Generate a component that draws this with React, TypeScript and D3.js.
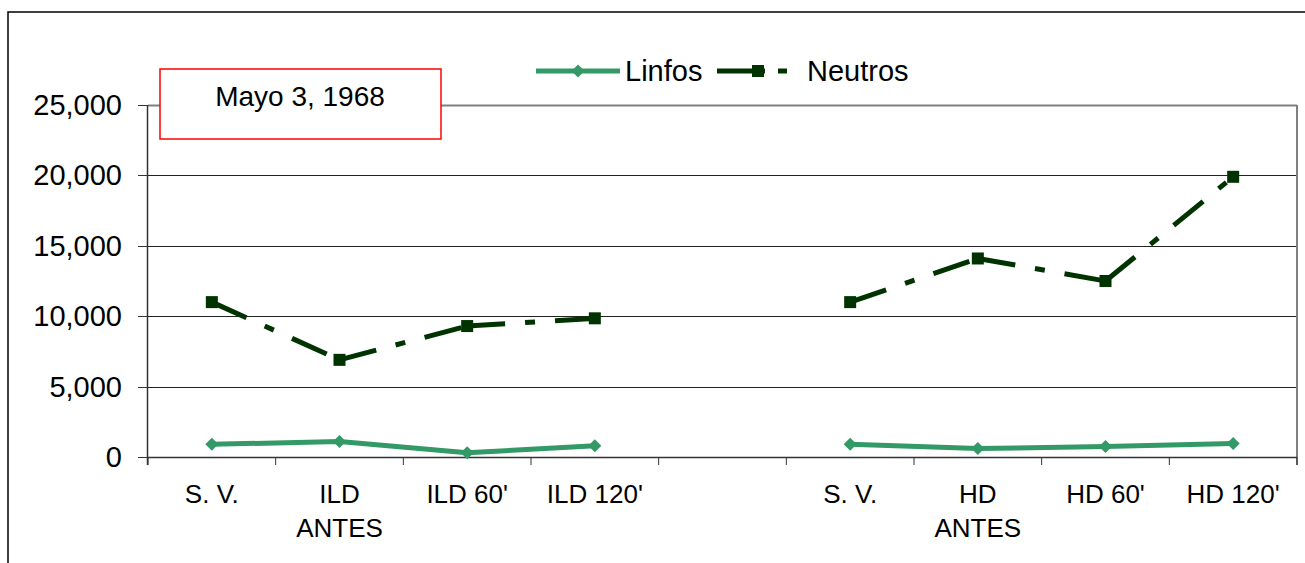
import React from "react";
import * as d3 from "d3";

const categories: string[][] = [
  ["S. V."],
  ["ILD", "ANTES"],
  ["ILD 60'"],
  ["ILD 120'"],
  [""],
  ["S. V."],
  ["HD", "ANTES"],
  ["HD 60'"],
  ["HD 120'"],
];
const linfos: (number | null)[] = [900, 1100, 300, 800, null, 900, 600, 750, 950];
const neutros: (number | null)[] = [11000, 6900, 9300, 9850, null, 11000, 14100, 12500, 19900];
const yTicks: number[] = [0, 5000, 10000, 15000, 20000, 25000];
const seriesNames = ["Linfos", "Neutros"];
const title = "Mayo 3, 1968";

const W = 1305;
const H = 563;
const FONT = "'Liberation Sans', Arial, Helvetica, sans-serif";
const LINFOS_COLOR = "#339966";
const NEUTROS_COLOR = "#003300";

export default function App() {
  const plot = { left: 148, right: 1297, top: 105, bottom: 457 };
  const x = d3
    .scaleBand<number>()
    .domain(categories.map((_, i) => i))
    .range([plot.left, plot.right])
    .padding(0);
  const y = d3.scaleLinear().domain([0, 25000]).range([plot.bottom, plot.top]);
  const fmt = d3.format(",");
  const cx = (i: number) => (x(i) as number) + x.bandwidth() / 2;

  const segs = (vals: (number | null)[]) => {
    const out: { x1: number; y1: number; x2: number; y2: number }[] = [];
    for (let i = 0; i < vals.length - 1; i++) {
      const a = vals[i];
      const b = vals[i + 1];
      if (a != null && b != null) {
        out.push({ x1: cx(i), y1: y(a), x2: cx(i + 1), y2: y(b) });
      }
    }
    return out;
  };

  const linfosLine = d3
    .line<[number, number | null]>()
    .defined((d) => d[1] != null)
    .x((d) => cx(d[0]))
    .y((d) => y(d[1] as number));

  const diamond = (px: number, py: number, r: number) =>
    `M${px},${py - r}L${px + r},${py}L${px},${py + r}L${px - r},${py}Z`;

  const edges = d3.range(categories.length + 1).map((i) =>
    i < categories.length ? (x(i) as number) : plot.right
  );

  return (
    <svg
      width={W}
      height={H}
      style={{ position: "absolute", left: 0, top: 0, background: "#fff" }}
      fontFamily={FONT}
    >
      <rect x={0} y={0} width={W} height={H} fill="#fff" />
      {/* outer chart frame */}
      <rect x={8} y={12} width={W + 10} height={H + 10} fill="none" stroke="#000" strokeWidth={1.5} />

      {/* gridlines */}
      {yTicks.map((t) =>
        t === 0 ? null : (
          <line
            key={"g" + t}
            x1={plot.left}
            x2={plot.right}
            y1={Math.round(y(t)) + 0.5}
            y2={Math.round(y(t)) + 0.5}
            stroke={t === 25000 ? "#808080" : "#222"}
            strokeWidth={t === 25000 ? 2 : 1}
          />
        )
      )}
      {/* right plot border */}
      <line x1={plot.right} x2={plot.right} y1={plot.top} y2={plot.bottom + 8} stroke="#808080" strokeWidth={2} />

      {/* y axis */}
      <line x1={plot.left - 0.5} x2={plot.left - 0.5} y1={plot.top} y2={plot.bottom + 8} stroke="#333" strokeWidth={1.5} />
      {yTicks.map((t) => (
        <g key={"yt" + t}>
          <line x1={plot.left - 10} x2={plot.left} y1={Math.round(y(t)) + 0.5} y2={Math.round(y(t)) + 0.5} stroke="#333" strokeWidth={1} />
          <text x={122} y={y(t) + 10} textAnchor="end" fontSize={29} fill="#000">
            {fmt(t)}
          </text>
        </g>
      ))}

      {/* x axis */}
      <line x1={plot.left} x2={plot.right} y1={plot.bottom + 0.5} y2={plot.bottom + 0.5} stroke="#333" strokeWidth={1.5} />
      {edges.map((e, i) => (
        <line key={"xt" + i} x1={e} x2={e} y1={plot.bottom} y2={plot.bottom + 8} stroke="#333" strokeWidth={1} />
      ))}
      {categories.map((lines, i) => (
        <text key={"xl" + i} x={cx(i)} y={503} textAnchor="middle" fontSize={26} fill="#000">
          {lines.map((l, j) => (
            <tspan key={j} x={cx(i)} dy={j === 0 ? 0 : 34}>
              {l}
            </tspan>
          ))}
        </text>
      ))}

      {/* Neutros series */}
      {segs(neutros).map((s, i) => (
        <line
          key={"ns" + i}
          x1={s.x1}
          y1={s.y1}
          x2={s.x2}
          y2={s.y2}
          stroke={NEUTROS_COLOR}
          strokeWidth={5}
          strokeDasharray="38,20,10,20"
        />
      ))}
      {neutros.map((v, i) =>
        v == null ? null : (
          <rect key={"nm" + i} x={cx(i) - 6} y={y(v) - 6} width={12} height={12} fill={NEUTROS_COLOR} />
        )
      )}

      {/* Linfos series */}
      <path
        d={linfosLine(linfos.map((v, i) => [i, v] as [number, number | null])) || ""}
        fill="none"
        stroke={LINFOS_COLOR}
        strokeWidth={5}
        strokeLinejoin="round"
      />
      {linfos.map((v, i) =>
        v == null ? null : <path key={"lm" + i} d={diamond(cx(i), y(v), 6.5)} fill={LINFOS_COLOR} />
      )}

      {/* legend */}
      <line x1={536} x2={620} y1={71} y2={71} stroke={LINFOS_COLOR} strokeWidth={5} />
      <path d={diamond(578, 71, 6.5)} fill={LINFOS_COLOR} />
      <text x={625} y={81} fontSize={29} fill="#000">
        {seriesNames[0]}
      </text>
      <line x1={717} x2={801} y1={71} y2={71} stroke={NEUTROS_COLOR} strokeWidth={5} strokeDasharray="48,13,9,20" />
      <rect x={752} y={65} width={12} height={12} fill={NEUTROS_COLOR} />
      <text x={807} y={81} fontSize={29} fill="#000">
        {seriesNames[1]}
      </text>

      {/* title box */}
      <rect x={160} y={69} width={281} height={70} fill="#fff" stroke="#ff0000" strokeWidth={1.5} />
      <text x={300} y={106} textAnchor="middle" fontSize={28} fill="#000">
        {title}
      </text>
    </svg>
  );
}
